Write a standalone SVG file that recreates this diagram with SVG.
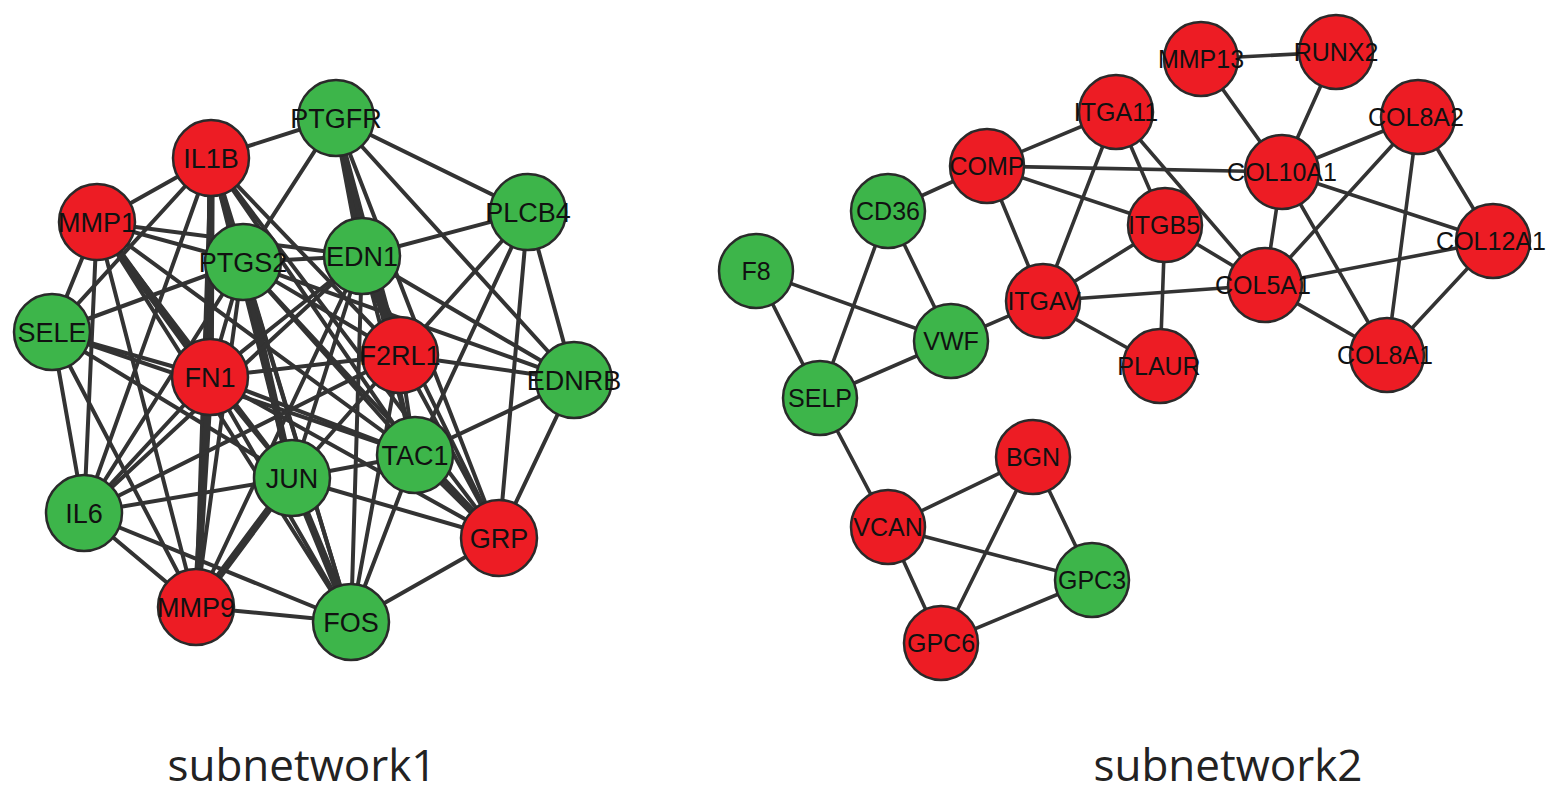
<svg xmlns="http://www.w3.org/2000/svg" width="1559" height="794" viewBox="0 0 1559 794">
<style>
.e{stroke:#333;stroke-width:4;stroke-linecap:round}
.t{stroke:#333;stroke-width:7.5;stroke-linecap:round}
.f{stroke:#333;stroke-width:3.6;stroke-linecap:round}
.r{fill:#ED1C24;stroke:#2a2a2a;stroke-width:2.5}
.g{fill:#3DB54A;stroke:#2a2a2a;stroke-width:2.5}
.l1{font-family:"Liberation Sans",Arial,sans-serif;font-size:27px;fill:#111;text-anchor:middle}
.l2{font-family:"Liberation Sans",Arial,sans-serif;font-size:25px;fill:#111;text-anchor:middle}
.cap{font-family:"Open Sans","Liberation Sans",sans-serif;font-size:44px;fill:#222;text-anchor:middle}
</style>
<rect width="1559" height="794" fill="#fff"/>
<g id="connectors">
<!-- subnetwork1 -->
<line class="e" x1="336" y1="118" x2="211" y2="158"/>
<line class="e" x1="336" y1="118" x2="243" y2="262"/>
<line class="t" x1="336" y1="118" x2="362" y2="256"/>
<line class="e" x1="336" y1="118" x2="528" y2="212"/>
<line class="e" x1="336" y1="118" x2="400" y2="355"/>
<line class="e" x1="336" y1="118" x2="574" y2="380"/>
<line class="e" x1="336" y1="118" x2="415" y2="455"/>
<line class="e" x1="336" y1="118" x2="499" y2="538"/>
<line class="e" x1="211" y1="158" x2="97" y2="222"/>
<line class="t" x1="211" y1="158" x2="243" y2="262"/>
<line class="t" x1="211" y1="158" x2="210" y2="377"/>
<line class="e" x1="211" y1="158" x2="52" y2="332"/>
<line class="e" x1="211" y1="158" x2="84" y2="513"/>
<line class="e" x1="211" y1="158" x2="292" y2="478"/>
<line class="e" x1="211" y1="158" x2="351" y2="622"/>
<line class="e" x1="211" y1="158" x2="415" y2="455"/>
<line class="e" x1="211" y1="158" x2="400" y2="355"/>
<line class="e" x1="211" y1="158" x2="499" y2="538"/>
<line class="e" x1="211" y1="158" x2="196" y2="607"/>
<line class="e" x1="97" y1="222" x2="243" y2="262"/>
<line class="e" x1="97" y1="222" x2="362" y2="256"/>
<line class="e" x1="97" y1="222" x2="52" y2="332"/>
<line class="t" x1="97" y1="222" x2="210" y2="377"/>
<line class="e" x1="97" y1="222" x2="84" y2="513"/>
<line class="e" x1="97" y1="222" x2="196" y2="607"/>
<line class="e" x1="97" y1="222" x2="292" y2="478"/>
<line class="e" x1="97" y1="222" x2="415" y2="455"/>
<line class="e" x1="97" y1="222" x2="351" y2="622"/>
<line class="e" x1="243" y1="262" x2="362" y2="256"/>
<line class="e" x1="243" y1="262" x2="52" y2="332"/>
<line class="e" x1="243" y1="262" x2="210" y2="377"/>
<line class="e" x1="243" y1="262" x2="84" y2="513"/>
<line class="t" x1="243" y1="262" x2="292" y2="478"/>
<line class="e" x1="243" y1="262" x2="351" y2="622"/>
<line class="e" x1="243" y1="262" x2="196" y2="607"/>
<line class="e" x1="243" y1="262" x2="415" y2="455"/>
<line class="e" x1="243" y1="262" x2="400" y2="355"/>
<line class="e" x1="243" y1="262" x2="499" y2="538"/>
<line class="e" x1="243" y1="262" x2="574" y2="380"/>
<line class="e" x1="362" y1="256" x2="528" y2="212"/>
<line class="t" x1="362" y1="256" x2="400" y2="355"/>
<line class="e" x1="362" y1="256" x2="574" y2="380"/>
<line class="e" x1="362" y1="256" x2="210" y2="377"/>
<line class="e" x1="362" y1="256" x2="84" y2="513"/>
<line class="e" x1="362" y1="256" x2="292" y2="478"/>
<line class="e" x1="362" y1="256" x2="415" y2="455"/>
<line class="e" x1="362" y1="256" x2="499" y2="538"/>
<line class="e" x1="362" y1="256" x2="351" y2="622"/>
<line class="e" x1="362" y1="256" x2="196" y2="607"/>
<line class="e" x1="528" y1="212" x2="400" y2="355"/>
<line class="e" x1="528" y1="212" x2="574" y2="380"/>
<line class="e" x1="528" y1="212" x2="415" y2="455"/>
<line class="e" x1="528" y1="212" x2="499" y2="538"/>
<line class="e" x1="52" y1="332" x2="210" y2="377"/>
<line class="e" x1="52" y1="332" x2="84" y2="513"/>
<line class="e" x1="52" y1="332" x2="415" y2="455"/>
<line class="e" x1="52" y1="332" x2="196" y2="607"/>
<line class="e" x1="52" y1="332" x2="292" y2="478"/>
<line class="e" x1="210" y1="377" x2="400" y2="355"/>
<line class="e" x1="210" y1="377" x2="415" y2="455"/>
<line class="e" x1="210" y1="377" x2="292" y2="478"/>
<line class="e" x1="210" y1="377" x2="84" y2="513"/>
<line class="t" x1="210" y1="377" x2="196" y2="607"/>
<line class="e" x1="210" y1="377" x2="351" y2="622"/>
<line class="e" x1="210" y1="377" x2="499" y2="538"/>
<line class="e" x1="400" y1="355" x2="574" y2="380"/>
<line class="e" x1="400" y1="355" x2="415" y2="455"/>
<line class="e" x1="400" y1="355" x2="499" y2="538"/>
<line class="e" x1="400" y1="355" x2="351" y2="622"/>
<line class="e" x1="400" y1="355" x2="292" y2="478"/>
<line class="e" x1="400" y1="355" x2="84" y2="513"/>
<line class="e" x1="574" y1="380" x2="415" y2="455"/>
<line class="e" x1="574" y1="380" x2="499" y2="538"/>
<line class="e" x1="415" y1="455" x2="292" y2="478"/>
<line class="t" x1="415" y1="455" x2="499" y2="538"/>
<line class="e" x1="415" y1="455" x2="351" y2="622"/>
<line class="e" x1="292" y1="478" x2="84" y2="513"/>
<line class="t" x1="292" y1="478" x2="196" y2="607"/>
<line class="t" x1="292" y1="478" x2="351" y2="622"/>
<line class="e" x1="292" y1="478" x2="499" y2="538"/>
<line class="e" x1="84" y1="513" x2="196" y2="607"/>
<line class="e" x1="84" y1="513" x2="351" y2="622"/>
<line class="e" x1="196" y1="607" x2="351" y2="622"/>
<line class="e" x1="499" y1="538" x2="351" y2="622"/>
<!-- subnetwork2 -->
<line class="f" x1="1201" y1="59" x2="1336" y2="52"/>
<line class="f" x1="1201" y1="59" x2="1282" y2="172"/>
<line class="f" x1="1336" y1="52" x2="1282" y2="172"/>
<line class="f" x1="1116" y1="112" x2="987" y2="166"/>
<line class="f" x1="1116" y1="112" x2="1043" y2="301"/>
<line class="f" x1="1116" y1="112" x2="1165" y2="225"/>
<line class="f" x1="1116" y1="112" x2="1265" y2="285"/>
<line class="f" x1="987" y1="166" x2="1282" y2="172"/>
<line class="f" x1="987" y1="166" x2="1165" y2="225"/>
<line class="f" x1="987" y1="166" x2="888" y2="211"/>
<line class="f" x1="987" y1="166" x2="1043" y2="301"/>
<line class="f" x1="888" y1="211" x2="951" y2="341"/>
<line class="f" x1="888" y1="211" x2="820" y2="398"/>
<line class="f" x1="756" y1="271" x2="951" y2="341"/>
<line class="f" x1="756" y1="271" x2="820" y2="398"/>
<line class="f" x1="951" y1="341" x2="820" y2="398"/>
<line class="f" x1="951" y1="341" x2="1043" y2="301"/>
<line class="f" x1="1043" y1="301" x2="1165" y2="225"/>
<line class="f" x1="1043" y1="301" x2="1265" y2="285"/>
<line class="f" x1="1043" y1="301" x2="1160" y2="366"/>
<line class="f" x1="1165" y1="225" x2="1160" y2="366"/>
<line class="f" x1="1165" y1="225" x2="1265" y2="285"/>
<line class="f" x1="1282" y1="172" x2="1265" y2="285"/>
<line class="f" x1="1282" y1="172" x2="1418" y2="117"/>
<line class="f" x1="1282" y1="172" x2="1493" y2="241"/>
<line class="f" x1="1282" y1="172" x2="1387" y2="355"/>
<line class="f" x1="1418" y1="117" x2="1265" y2="285"/>
<line class="f" x1="1418" y1="117" x2="1387" y2="355"/>
<line class="f" x1="1418" y1="117" x2="1493" y2="241"/>
<line class="f" x1="1493" y1="241" x2="1265" y2="285"/>
<line class="f" x1="1493" y1="241" x2="1387" y2="355"/>
<line class="f" x1="1265" y1="285" x2="1387" y2="355"/>
<line class="f" x1="820" y1="398" x2="888" y2="527"/>
<line class="f" x1="888" y1="527" x2="1033" y2="457"/>
<line class="f" x1="888" y1="527" x2="1092" y2="580"/>
<line class="f" x1="888" y1="527" x2="941" y2="643"/>
<line class="f" x1="1033" y1="457" x2="941" y2="643"/>
<line class="f" x1="1033" y1="457" x2="1092" y2="580"/>
<line class="f" x1="941" y1="643" x2="1092" y2="580"/>
</g>
<g id="PTGFR"><circle class="g" cx="336" cy="118" r="38"/><text class="l1" x="336" y="128">PTGFR</text></g>
<g id="IL1B"><circle class="r" cx="211" cy="158" r="38"/><text class="l1" x="211" y="168">IL1B</text></g>
<g id="MMP1"><circle class="r" cx="97" cy="222" r="38"/><text class="l1" x="97" y="232">MMP1</text></g>
<g id="PTGS2"><circle class="g" cx="243" cy="262" r="38"/><text class="l1" x="243" y="272">PTGS2</text></g>
<g id="EDN1"><circle class="g" cx="362" cy="256" r="38"/><text class="l1" x="362" y="266">EDN1</text></g>
<g id="PLCB4"><circle class="g" cx="528" cy="212" r="38"/><text class="l1" x="528" y="222">PLCB4</text></g>
<g id="SELE"><circle class="g" cx="52" cy="332" r="38"/><text class="l1" x="52" y="342">SELE</text></g>
<g id="FN1"><circle class="r" cx="210" cy="377" r="38"/><text class="l1" x="210" y="387">FN1</text></g>
<g id="F2RL1"><circle class="r" cx="400" cy="355" r="38"/><text class="l1" x="400" y="365">F2RL1</text></g>
<g id="EDNRB"><circle class="g" cx="574" cy="380" r="38"/><text class="l1" x="574" y="390">EDNRB</text></g>
<g id="TAC1"><circle class="g" cx="415" cy="455" r="38"/><text class="l1" x="415" y="465">TAC1</text></g>
<g id="JUN"><circle class="g" cx="292" cy="478" r="38"/><text class="l1" x="292" y="488">JUN</text></g>
<g id="IL6"><circle class="g" cx="84" cy="513" r="38"/><text class="l1" x="84" y="523">IL6</text></g>
<g id="GRP"><circle class="r" cx="499" cy="538" r="38"/><text class="l1" x="499" y="548">GRP</text></g>
<g id="MMP9"><circle class="r" cx="196" cy="607" r="38"/><text class="l1" x="196" y="617">MMP9</text></g>
<g id="FOS"><circle class="g" cx="351" cy="622" r="38"/><text class="l1" x="351" y="632">FOS</text></g>
<g id="MMP13"><circle class="r" cx="1201" cy="59" r="37"/><text class="l2" x="1201" y="68">MMP13</text></g>
<g id="RUNX2"><circle class="r" cx="1336" cy="52" r="37"/><text class="l2" x="1336" y="61">RUNX2</text></g>
<g id="ITGA11"><circle class="r" cx="1116" cy="112" r="37"/><text class="l2" x="1116" y="121">ITGA11</text></g>
<g id="COL8A2"><circle class="r" cx="1418" cy="117" r="37"/><text class="l2" x="1416" y="126">COL8A2</text></g>
<g id="COMP"><circle class="r" cx="987" cy="166" r="37"/><text class="l2" x="987" y="175">COMP</text></g>
<g id="COL10A1"><circle class="r" cx="1282" cy="172" r="37"/><text class="l2" x="1282" y="181">COL10A1</text></g>
<g id="CD36"><circle class="g" cx="888" cy="211" r="37"/><text class="l2" x="888" y="220">CD36</text></g>
<g id="ITGB5"><circle class="r" cx="1165" cy="225" r="37"/><text class="l2" x="1164" y="234">ITGB5</text></g>
<g id="COL12A1"><circle class="r" cx="1493" cy="241" r="37"/><text class="l2" x="1491" y="250">COL12A1</text></g>
<g id="F8"><circle class="g" cx="756" cy="271" r="37"/><text class="l2" x="756" y="280">F8</text></g>
<g id="ITGAV"><circle class="r" cx="1043" cy="301" r="37"/><text class="l2" x="1044" y="310">ITGAV</text></g>
<g id="COL5A1"><circle class="r" cx="1265" cy="285" r="37"/><text class="l2" x="1263" y="294">COL5A1</text></g>
<g id="VWF"><circle class="g" cx="951" cy="341" r="37"/><text class="l2" x="951" y="350">VWF</text></g>
<g id="PLAUR"><circle class="r" cx="1160" cy="366" r="37"/><text class="l2" x="1159" y="375">PLAUR</text></g>
<g id="COL8A1"><circle class="r" cx="1387" cy="355" r="37"/><text class="l2" x="1385" y="364">COL8A1</text></g>
<g id="SELP"><circle class="g" cx="820" cy="398" r="37"/><text class="l2" x="820" y="407">SELP</text></g>
<g id="BGN"><circle class="r" cx="1033" cy="457" r="37"/><text class="l2" x="1033" y="466">BGN</text></g>
<g id="VCAN"><circle class="r" cx="888" cy="527" r="37"/><text class="l2" x="888" y="536">VCAN</text></g>
<g id="GPC3"><circle class="g" cx="1092" cy="580" r="37"/><text class="l2" x="1092" y="589">GPC3</text></g>
<g id="GPC6"><circle class="r" cx="941" cy="643" r="37"/><text class="l2" x="941" y="652">GPC6</text></g>
<text class="cap" x="302" y="781">subnetwork1</text>
<text class="cap" x="1228" y="781">subnetwork2</text>
</svg>
